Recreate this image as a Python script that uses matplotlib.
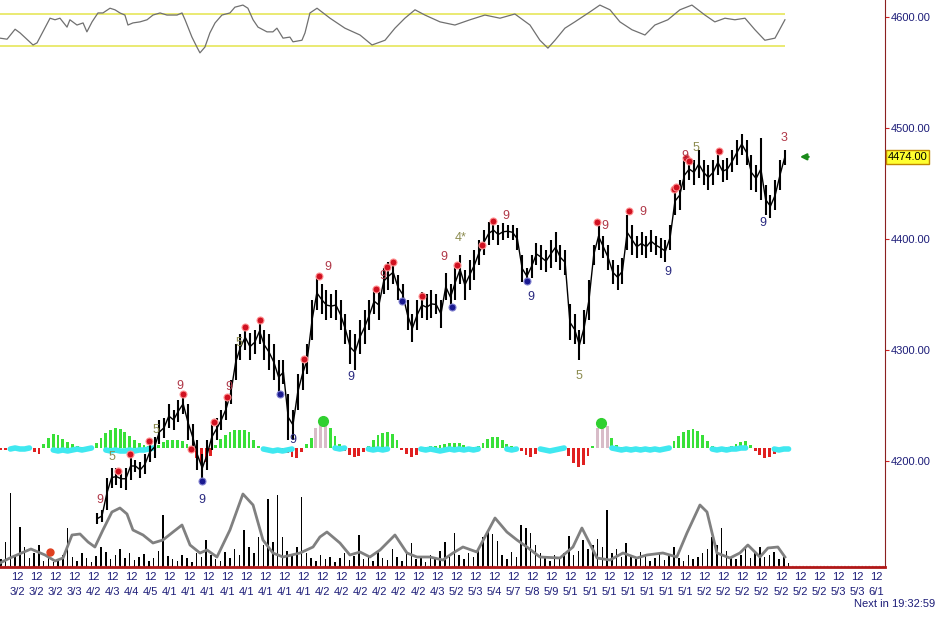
import numpy as np
import matplotlib.pyplot as plt

# x axis unit: trading day index, tick k sits at noon of day_labels[k]
day_labels = ['3/27', '3/28', '3/29', '3/30', '4/2', '4/3', '4/4', '4/5',
              '4/10', '4/11', '4/12', '4/13', '4/16', '4/17', '4/18', '4/19',
              '4/20', '4/23', '4/24', '4/25', '4/26', '4/27', '4/30', '5/2',
              '5/3', '5/4', '5/7', '5/8', '5/9', '5/10', '5/11', '5/14',
              '5/15', '5/16', '5/17', '5/18', '5/21', '5/22', '5/23', '5/24',
              '5/25', '5/28', '5/29', '5/30', '5/31', '6/1']
hour_label = '12'

# price bars, one every quarter day
bar_start = 4.2
bar_step = 0.25
bar_high = [4153, 4156, 4185, 4194, 4194, 4192, 4194, 4208, 4201, 4199,
            4206, 4217, 4222, 4237, 4239, 4251, 4246, 4255, 4261, 4251,
            4233, 4219, 4206, 4219, 4233, 4239, 4246, 4257, 4273, 4305,
            4314, 4323, 4315, 4318, 4329, 4318, 4314, 4305, 4291, 4291,
            4260, 4246, 4278, 4293, 4305, 4345, 4367, 4359, 4354, 4350,
            4354, 4345, 4332, 4318, 4314, 4327, 4336, 4345, 4356, 4354,
            4374, 4379, 4381, 4368, 4359, 4345, 4332, 4345, 4352, 4350,
            4354, 4350, 4345, 4369, 4359, 4377, 4386, 4372, 4381, 4390,
            4399, 4408, 4415, 4417, 4413, 4414, 4413, 4413, 4410, 4386,
            4374, 4386, 4396, 4395, 4390, 4399, 4406, 4395, 4390, 4341,
            4332, 4318, 4336, 4363, 4395, 4415, 4403, 4395, 4381, 4377,
            4383, 4422, 4413, 4403, 4406, 4403, 4408, 4403, 4401, 4399,
            4413, 4446, 4453, 4471, 4473, 4471, 4480, 4471, 4467, 4471,
            4480, 4471, 4473, 4480, 4489, 4495, 4489, 4476, 4467, 4491,
            4449, 4440, 4453, 4471, 4480]
bar_low = [4143, 4145, 4156, 4176, 4178, 4176, 4174, 4183, 4190, 4185,
           4188, 4199, 4203, 4215, 4221, 4230, 4228, 4235, 4242, 4219,
           4210, 4192, 4181, 4192, 4210, 4219, 4228, 4237, 4251, 4273,
           4291, 4300, 4291, 4296, 4305, 4291, 4282, 4273, 4260, 4269,
           4219, 4219, 4246, 4264, 4278, 4309, 4336, 4332, 4327, 4329,
           4327, 4318, 4305, 4287, 4282, 4296, 4305, 4318, 4332, 4327,
           4350, 4354, 4359, 4345, 4341, 4318, 4307, 4318, 4329, 4327,
           4329, 4332, 4320, 4345, 4336, 4345, 4359, 4345, 4354, 4363,
           4377, 4386, 4395, 4399, 4395, 4399, 4401, 4399, 4390, 4361,
           4359, 4365, 4377, 4372, 4370, 4374, 4379, 4372, 4368, 4309,
           4305, 4291, 4305, 4327, 4377, 4390, 4383, 4372, 4359, 4354,
           4359, 4390, 4386, 4383, 4386, 4383, 4388, 4386, 4383, 4379,
           4390, 4422, 4426, 4444, 4453, 4449, 4455, 4449, 4444, 4449,
           4458, 4451, 4453, 4460, 4467, 4476, 4467, 4444, 4442, 4435,
           4422, 4419, 4426, 4444, 4467]
last_price = 4474.00

# setup dots and counts on the price pane
red_dot_days = [5.29, 5.92, 6.91, 8.69, 9.11, 10.31, 10.99, 11.94, 12.72,
                15.03, 15.81, 18.80, 19.37, 19.69, 21.20, 23.04, 24.35,
                24.92, 30.37, 32.04, 34.40, 34.50, 35.03, 35.18, 36.75]
red_dot_prices = [4191, 4206, 4218, 4260, 4211, 4235, 4258, 4321, 4327,
                  4292, 4367, 4355, 4375, 4379, 4349, 4377, 4395, 4416,
                  4415, 4425, 4445, 4447, 4473, 4470, 4479]
blue_dot_days = [9.69, 13.77, 20.16, 22.77, 26.70]
blue_dot_prices = [4182, 4260, 4344, 4339, 4362]
count_days = [4.35, 4.97, 7.28, 8.53, 9.69, 11.10, 11.62, 14.45, 16.28,
              17.49, 19.16, 22.36, 23.25, 25.60, 26.91, 29.42, 30.79,
              32.77, 34.08, 34.97, 35.55, 39.06, 40.16]
count_prices = [4165, 4204, 4228, 4268, 4165, 4267, 4306, 4219, 4375,
                4276, 4367, 4384, 4401, 4421, 4348, 4277, 4412, 4424,
                4370, 4475, 4482, 4414, 4491]
count_texts = ['9', '5', '5', '9', '9', '9', '5', '9', '9', '9', '9', '9',
               '4*', '9', '9', '5', '9', '9', '9', '9', '5', '9', '3']
count_kinds = ['sell', 'setup', 'setup', 'sell', 'buy', 'sell', 'setup',
               'buy', 'sell', 'buy', 'sell', 'sell', 'setup', 'sell', 'buy',
               'setup', 'sell', 'sell', 'buy', 'sell', 'setup', 'buy', 'sell']

# oscillator in the top strip (bands at 20 / 80)
osc_days = [-0.89, -0.52, -0.10, 0.16, 0.84, 1.05, 1.73, 1.99, 2.25, 2.62,
            2.77, 3.14, 3.46, 3.66, 3.93, 4.24, 4.50, 4.87, 5.13, 5.39,
            5.65, 5.81, 6.07, 6.44, 6.81, 7.12, 7.49, 7.85, 8.38, 8.64,
            8.80, 9.16, 9.42, 9.58, 9.84, 10.10, 10.37, 10.73, 11.15, 11.41,
            11.83, 12.09, 12.36, 12.62, 13.09, 13.40, 13.61, 13.93, 14.29,
            14.45, 14.92, 15.08, 15.34, 15.71, 16.39, 17.17, 17.96, 18.59,
            19.27, 19.79, 20.31, 20.84, 21.36, 22.15, 22.93, 23.72, 24.50,
            25.29, 26.07, 26.86, 27.38, 27.80, 28.17, 28.69, 29.21, 30.00,
            30.52, 31.05, 31.57, 32.20, 32.88, 33.40, 34.08, 34.71, 35.34,
            36.02, 36.54, 37.07, 37.59, 38.12, 38.64, 39.16, 39.69, 40.21]
osc_vals = [34, 32, 51, 44, 21, 25, 72, 69, 72, 55, 69, 59, 63, 46, 65, 82,
            82, 91, 88, 82, 78, 59, 63, 65, 69, 78, 82, 78, 78, 82, 69, 36,
            17, 6, 17, 44, 63, 78, 82, 93, 97, 91, 69, 55, 46, 46, 53, 34,
            36, 27, 30, 44, 82, 91, 72, 53, 40, 21, 30, 53, 72, 88, 78, 65,
            59, 69, 78, 72, 80, 59, 30, 15, 30, 53, 65, 84, 97, 88, 65, 50,
            40, 59, 69, 88, 97, 78, 65, 72, 69, 72, 50, 30, 34, 69]
osc_levels = [20, 80]

# histogram / volume share a quarter-day grid
hist_start = -0.85
hist_vals = [-2, -2, -1, 0, 0, 0, -1, -4, -6, 4,
             10, 14, 13, 9, 6, 4, 2, 1, 1, 2,
             5, 10, 15, 18, 20, 19, 16, 12, 8, 5,
             3, 2, 1, 3, 6, 8, 8, 8, 7, 4,
             -3, -10, -16, -14, -8, 3, 9, 13, 16, 18,
             18, 18, 16, 8, 2, 1, 0, 0, 0, -1,
             -5, -9, -10, -4, 4, 10, 20, 27, 26, 20,
             12, 4, -3, -7, -9, -8, -4, 2, 8, 13,
             15, 16, 14, 8, -2, -6, -9, -7, -2, 1,
             2, 2, 3, 4, 5, 5, 5, 3, 1, 1,
             2, 5, 9, 11, 11, 8, 4, 2, 1, -3,
             -7, -9, -6, -2, 0, 0, 0, 0, -2, -8,
             -15, -19, -17, -8, 2, 20, 25, 22, 10, 3,
             1, 1, 1, 1, 1, 1, 1, 1, 0, 0,
             2, 7, 12, 16, 18, 19, 17, 13, 7, 2,
             0, 0, 1, 2, 4, 6, 7, 3, -3, -7,
             -10, -9, -6, -3, -1, 0]
hist_peak_idx = [66, 67, 68, 125, 126, 127]
signal_vals = [None, None, -1, 0, -1, -1, 0, None, None, None,
               None, -2, -3, -2, -3, -2, -1, -2, -1, 0,
               None, None, -2, -3, -2, -3, -3, -2, -3, -2,
               -2, -1, 0, None, None, None, None, None, None, None,
               None, None, None, None, None, None, None, None, None, None,
               None, None, None, None, None, -1, -2, -3, -2, -3,
               -2, -1, None, None, None, None, None, None, None, None,
               0, -1, 0, None, None, None, None, -1, -2, -1,
               -2, -1, None, None, None, None, None, None, -1, -2,
               -1, -2, -3, -2, -1, -2, -1, -2, -1, -2,
               -1, None, None, None, None, None, -1, -2, -1, None,
               None, None, None, -1, -2, -3, -2, -1, 0, None,
               None, None, None, None, None, None, None, None, 0, -1,
               -2, -1, -2, -1, -2, -1, -2, -1, -2, -1,
               0, None, None, None, None, None, None, None, None, -1,
               -2, -1, -2, -1, -1, 0, 0, None, None, None,
               None, None, -1, -2, -1, -1]
peak_dot_days = [16.02, 30.58]
peak_dot_vals = [27, 25]

volume = [8, 25, 74, 12, 40, 20, 9, 14, 22, 6,
          10, 5, 8, 12, 39, 10, 6, 14, 9, 5,
          11, 20, 15, 8, 12, 18, 9, 14, 7, 10,
          13, 6, 9, 16, 52, 11, 8, 6, 12, 9,
          5, 14, 10, 27, 12, 8, 6, 15, 9, 18,
          12, 37, 20, 14, 30, 22, 68, 25, 72, 30,
          16, 12, 20, 70, 14, 9, 6, 12, 8, 10,
          5, 9, 14, 7, 11, 32, 8, 12, 6, 15,
          9, 7, 18, 10, 6, 14, 24, 8, 11, 5,
          12, 9, 16, 25, 10, 34, 12, 8, 14, 10,
          18, 30, 37, 33, 26, 12, 8, 15, 10, 42,
          39, 34, 22, 14, 10, 6, 12, 9, 14, 31,
          12, 16, 27, 18, 22, 28, 20, 57, 14, 18,
          10, 24, 12, 8, 15, 12, 6, 9, 14, 7,
          11, 20, 9, 6, 12, 8, 10, 14, 18, 30,
          22, 39, 16, 10, 8, 12, 20, 9, 14, 20,
          10, 12, 15, 8, 10, 4]
vol_avg_days = [-0.89, -0.37, 0.73, 1.47, 1.99, 2.41, 2.88, 3.30, 3.72,
                4.08, 4.50, 4.97, 5.39, 5.76, 6.07, 6.60, 7.12, 7.64, 8.17,
                8.64, 9.06, 9.58, 9.95, 10.47, 11.15, 11.83, 12.36, 12.88,
                13.40, 13.93, 14.82, 15.50, 15.86, 16.23, 16.91, 17.43,
                17.96, 18.48, 19.01, 19.79, 20.42, 20.94, 21.62, 22.30,
                22.83, 23.35, 24.08, 24.50, 25.03, 25.65, 26.18, 26.70,
                27.38, 28.43, 29.11, 29.58, 29.90, 30.37, 31.05, 31.73,
                32.46, 32.98, 33.82, 34.55, 35.08, 35.76, 36.13, 36.65,
                37.33, 37.85, 38.27, 38.90, 39.32, 39.84, 40.21]
vol_avg = [4, 9, 18, 12, 6, 9, 32, 33, 25, 20, 37, 55, 59, 53, 37, 32, 24,
           27, 35, 42, 22, 14, 17, 10, 37, 73, 62, 27, 14, 10, 14, 20, 30,
           35, 24, 12, 15, 10, 17, 32, 14, 10, 10, 7, 14, 20, 15, 30, 49,
           35, 27, 20, 10, 9, 20, 39, 27, 9, 7, 14, 9, 12, 14, 10, 34, 62,
           55, 14, 9, 14, 22, 10, 19, 20, 10]
vol_dot_day = 1.73
vol_dot_val = 15

NAVY = '#1c1c78'
W_PX, H_PX = 945, 627
plot_right, plot_bottom = 885, 567


def frac_box(top_px, bottom_px):
    """figure-fraction box for a strip of the plot area"""
    return [0.0, (H_PX - bottom_px) / H_PX, plot_right / W_PX,
            (bottom_px - top_px) / H_PX]


def main():
    fig = plt.figure(figsize=(W_PX / 100, H_PX / 100), dpi=100)
    fig.patch.set_facecolor('white')
    xlim = (-0.89, 45.45)
    n_ticks = len(day_labels)

    # price pane (drawn on top of the indicator strips)
    ax = fig.add_axes(frac_box(0, plot_bottom))
    ax.set_zorder(2)
    ax.patch.set_visible(False)
    ax.set_xlim(*xlim)
    ax.set_ylim(4104.5, 4615.3)
    for side in ['top', 'left']:
        ax.spines[side].set_visible(False)
    ax.spines['right'].set_color('#8b2020')
    ax.spines['bottom'].set_color('#b01818')
    ax.spines['bottom'].set_linewidth(2)
    ax.axhline(4105.2, color='#ff9a9a', lw=1, ls=(0, (1, 1.5)))
    ax.yaxis.tick_right()
    ax.set_yticks([4200, 4300, 4400, 4500, 4600])
    ax.set_yticklabels(['%.2f' % v for v in [4200, 4300, 4400, 4500, 4600]],
                       family='Liberation Sans')
    ax.tick_params(axis='y', colors='#d02020', labelcolor=NAVY, length=3,
                   labelsize=8, pad=1)
    ax.set_xticks([])

    bar_days = bar_start + bar_step * np.arange(len(bar_high))
    hi = np.array(bar_high, dtype=float)
    lo = np.array(bar_low, dtype=float)
    ax.vlines(bar_days, lo, hi, color='black', lw=1.5)
    ax.plot(bar_days, (hi + lo) / 2, color='black', lw=1)

    ax.plot(red_dot_days, red_dot_prices, 'o', color='#d01020', ms=5,
            mec='#ff9090', mew=0.8)
    ax.plot(blue_dot_days, blue_dot_prices, 'o', color='#1a1a90', ms=5,
            mec='#8080d0', mew=0.8)
    kind_colors = {'sell': '#b03848', 'buy': '#2a2a80', 'setup': '#8c8c50'}
    for d, p, t, k in zip(count_days, count_prices, count_texts, count_kinds):
        ax.text(d, p, t, color=kind_colors[k], fontsize=9, ha='center',
                va='center', family='Liberation Sans')

    # last price flag and arrow
    ax.text(1.003, last_price, '%.2f' % last_price,
            transform=ax.get_yaxis_transform(), fontsize=8, ha='left',
            va='center', family='Liberation Sans',
            bbox=dict(boxstyle='square,pad=0.15', facecolor='#ffff30',
                      edgecolor='#c08800', lw=1))
    ax.annotate('', xy=(40.85, last_price), xytext=(41.6, last_price),
                arrowprops=dict(arrowstyle='-|>', color='#1a8a1a', lw=1.6,
                                mutation_scale=9))

    # time axis labels: the chart clips every date to its first three chars
    for k in range(n_ticks):
        ax.text(k, -0.018, hour_label, transform=ax.get_xaxis_transform(),
                ha='center', va='center', fontsize=8, color=NAVY,
                family='Liberation Sans')
        ax.text(k, -0.044, day_labels[k][:3],
                transform=ax.get_xaxis_transform(), ha='center', va='center',
                fontsize=8, color=NAVY, family='Liberation Sans')
    fig.text(935 / W_PX, 1 - 604 / H_PX, 'Next in 19:32:59', ha='right',
             va='center', fontsize=8, color=NAVY, family='Liberation Sans')

    # oscillator strip
    ax_o = fig.add_axes(frac_box(3.5, 56))
    ax_o.set_zorder(1)
    ax_o.axis('off')
    ax_o.set_xlim(*xlim)
    ax_o.set_ylim(0, 100)
    ax_o.hlines(osc_levels, xlim[0], 40.21, color='#e6e65a', lw=1.2)
    ax_o.plot(osc_days, osc_vals, color='#707070', lw=0.9)

    # histogram strip
    hist_days = hist_start + bar_step * np.arange(len(hist_vals))
    hv = np.array(hist_vals, dtype=float)
    colors = np.where(hv >= 0, '#38e038', '#e02020').astype(object)
    colors[hist_peak_idx] = '#d8bcc8'
    ax_h = fig.add_axes(frac_box(400, 500))
    ax_h.set_zorder(1)
    ax_h.axis('off')
    ax_h.set_xlim(*xlim)
    ax_h.set_ylim(-52, 48)
    ax_h.bar(hist_days, hv, width=0.15, color=list(colors))
    ax_h.plot(hist_days, np.array(signal_vals, dtype=float), color='#40e8f0',
              lw=4, solid_capstyle='round')
    ax_h.plot(peak_dot_days, peak_dot_vals, 'o', color='#30d030', ms=7)

    # volume strip
    ax_v = fig.add_axes(frac_box(480, plot_bottom))
    ax_v.set_zorder(1)
    ax_v.axis('off')
    ax_v.set_xlim(*xlim)
    ax_v.set_ylim(0, 87)
    ax_v.bar(hist_days, volume, width=0.08, color='black')
    ax_v.plot(vol_avg_days, vol_avg, color='#808080', lw=2)
    ax_v.plot([vol_dot_day], [vol_dot_val], 'o', color='#e04020', ms=5)

    fig.savefig('out.png', dpi=100)
    return 0


if __name__ == "__main__":
    main()
